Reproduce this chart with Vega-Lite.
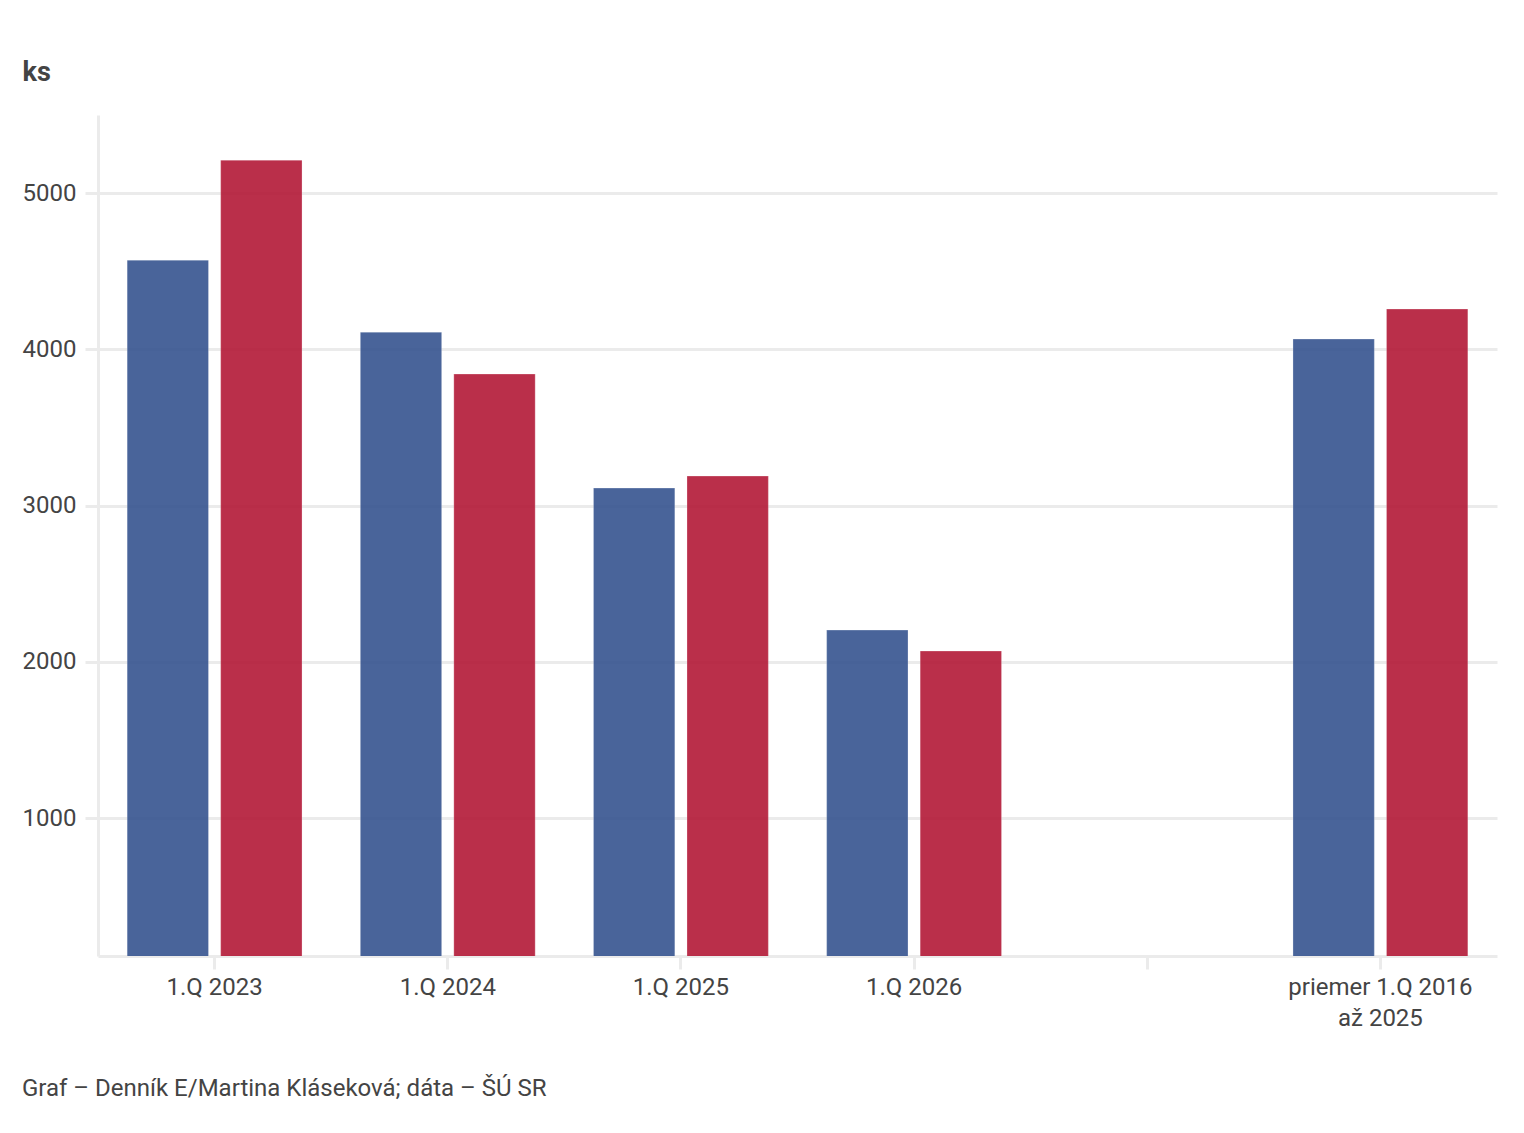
{
  "$schema": "https://vega.github.io/schema/vega-lite/v6.json",
  "autosize": "none",
  "width": 1399,
  "height": 841,
  "padding": {"left": 98, "top": 115, "right": 27, "bottom": 177},
  "background": "white",
  "title": {
    "text": "Graf – Denník E/Martina Kláseková; dáta – ŠÚ SR",
    "orient": "bottom",
    "anchor": "start",
    "frame": "group",
    "dx": -76,
    "offset": 47,
    "font": "Roboto",
    "fontSize": 24,
    "fontWeight": "normal",
    "color": "#444444"
  },
  "data": {
    "values": [
      {"obdobie": "1.Q 2023", "rad": "A", "ks": 4571},
      {"obdobie": "1.Q 2023", "rad": "B", "ks": 5211},
      {"obdobie": "1.Q 2024", "rad": "A", "ks": 4110},
      {"obdobie": "1.Q 2024", "rad": "B", "ks": 3842},
      {"obdobie": "1.Q 2025", "rad": "A", "ks": 3112},
      {"obdobie": "1.Q 2025", "rad": "B", "ks": 3189},
      {"obdobie": "1.Q 2026", "rad": "A", "ks": 2203},
      {"obdobie": "1.Q 2026", "rad": "B", "ks": 2069},
      {"obdobie": "priemer 1.Q 2016|až 2025", "rad": "A", "ks": 4066},
      {"obdobie": "priemer 1.Q 2016|až 2025", "rad": "B", "ks": 4258}
    ]
  },
  "mark": {"type": "bar", "clip": true, "opacity": 0.9, "stroke": "white", "strokeWidth": 0.5, "strokeOpacity": 0.5},
  "encoding": {
    "x": {
      "field": "obdobie",
      "type": "nominal",
      "sort": null,
      "scale": {
        "domain": ["1.Q 2023", "1.Q 2024", "1.Q 2025", "1.Q 2026", " ", "priemer 1.Q 2016|až 2025"],
        "paddingInner": 0.25,
        "paddingOuter": 0.125
      },
      "axis": {
        "title": null,
        "labelAngle": 0,
        "labelExpr": "split(datum.label, '|')",
        "labelFont": "Roboto",
        "labelFontSize": 24,
        "labelColor": "#444444",
        "labelLineHeight": 31,
        "labelPadding": 6,
        "labelLimit": 0,
        "tickSize": 13,
        "tickWidth": 3,
        "tickColor": "#ebebeb",
        "domainColor": "#ebebeb",
        "domainWidth": 3,
        "grid": false
      }
    },
    "xOffset": {
      "field": "rad",
      "type": "nominal",
      "scale": {"paddingInner": 0.13, "paddingOuter": 0}
    },
    "y": {
      "field": "ks",
      "type": "quantitative",
      "scale": {"domain": [117, 5500], "nice": false, "zero": false},
      "axis": {
        "title": "ks",
        "titleAngle": 0,
        "titleX": -76,
        "titleY": -35,
        "titleAlign": "left",
        "titleBaseline": "alphabetic",
        "titleFont": "Roboto",
        "titleFontSize": 27,
        "titleFontWeight": "bold",
        "titleColor": "#444444",
        "values": [1000, 2000, 3000, 4000, 5000],
        "format": "d",
        "labelFont": "Roboto",
        "labelFontSize": 24,
        "labelColor": "#444444",
        "labelPadding": 9,
        "tickSize": 13,
        "tickWidth": 3,
        "tickColor": "#ebebeb",
        "domainColor": "#ebebeb",
        "domainWidth": 3,
        "gridColor": "#ebebeb",
        "gridWidth": 3
      }
    },
    "color": {
      "field": "rad",
      "type": "nominal",
      "scale": {"domain": ["A", "B"], "range": ["#365490", "#b31937"]},
      "legend": null
    }
  },
  "config": {
    "view": {"stroke": null},
    "font": "Roboto"
  }
}
